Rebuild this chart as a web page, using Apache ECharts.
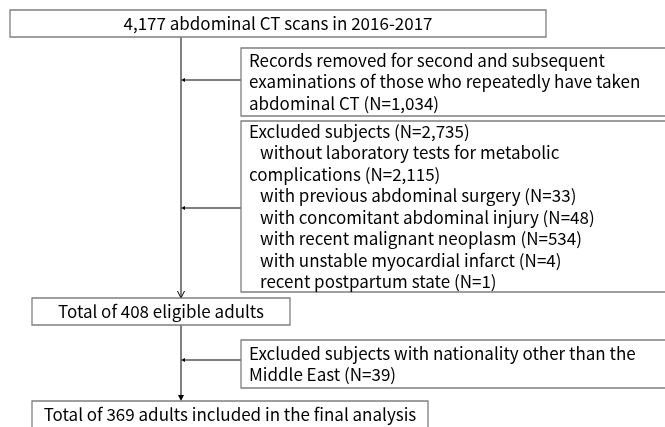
<!DOCTYPE html>
<html>
<head>
<meta charset="utf-8">
<script src="https://cdn.jsdelivr.net/npm/echarts@6/dist/echarts.min.js"></script>
<style>
html, body { margin: 0; padding: 0; background: #fff; }
#flow { width: 665px; height: 427px; }
</style>
</head>
<body>
<div id="flow"></div>
<script>
// box texts, one entry per printed line
var startText = ['4,177 abdominal CT scans in 2016-2017'];
var repeatText = [
    'Records removed for second and subsequent',
    'examinations of those who repeatedly have taken',
    'abdominal CT (N=1,034)'
];
var excludeText = [
    'Excluded subjects (N=2,735)',
    '  without laboratory tests for metabolic',
    'complications (N=2,115)',
    '  with previous abdominal surgery (N=33)',
    '  with concomitant abdominal injury (N=48)',
    '  with recent malignant neoplasm (N=534)',
    '  with unstable myocardial infarct (N=4)',
    '  recent postpartum state (N=1)'
];
var eligibleText = ['Total of 408 eligible adults'];
var nationText = [
    'Excluded subjects with nationality other than the',
    'Middle East (N=39)'
];
var finalText = ['Total of 369 adults included in the final analysis'];

var flow = echarts.init(document.getElementById('flow'));

var font = '"Noto Sans CJK KR", "Noto Sans", sans-serif';
var lineH = 21.5;
var trunkX = 181;
var elements = [];

function box(x, y, w, h, lines, center) {
    elements.push({
        type: 'rect',
        shape: { x: x, y: y, width: w, height: h },
        style: { fill: '#fff', stroke: '#7f7f7f', lineWidth: 1.3 }
    });
    var top = y + (h - lines.length * lineH) / 2 + lineH / 2;
    lines.forEach(function (t, i) {
        var indent = t.match(/^ */)[0].length;
        elements.push({
            type: 'text',
            x: center ? x + w / 2 : x + 8 + indent * 5.5,
            y: top + i * lineH,
            style: {
                text: t.replace(/^ +/, ''),
                fill: '#000',
                font: '17px ' + font,
                align: center ? 'center' : 'left',
                verticalAlign: 'middle'
            }
        });
    });
}

function branch(y, fromX) {
    elements.push({
        type: 'line',
        shape: { x1: fromX, y1: y, x2: trunkX + 2, y2: y },
        style: { stroke: '#7f7f7f', lineWidth: 2 }
    });
    elements.push({
        type: 'polygon',
        shape: { points: [[trunkX, y], [trunkX + 4, y - 2], [trunkX + 4, y + 2]] },
        style: { fill: '#000' }
    });
}

// trunk
elements.push({
    type: 'line',
    shape: { x1: trunkX, y1: 37, x2: trunkX, y2: 298 },
    style: { stroke: '#000', lineWidth: 1 }
});
elements.push({
    type: 'polyline',
    shape: { points: [[trunkX - 3.5, 291], [trunkX, 298], [trunkX + 3.5, 291]] },
    style: { stroke: '#000', lineWidth: 1, fill: null }
});
elements.push({
    type: 'line',
    shape: { x1: trunkX, y1: 325, x2: trunkX, y2: 396 },
    style: { stroke: '#000', lineWidth: 1 }
});
elements.push({
    type: 'polygon',
    shape: { points: [[trunkX - 3, 395], [trunkX + 3, 395], [trunkX, 401]] },
    style: { fill: '#000' }
});

branch(80, 241);
branch(208, 241);
branch(360, 241);

box(10, 10, 536, 27, startText, true);
box(241, 48, 430, 68, repeatText, false);
box(241, 121, 430, 171, excludeText, false);
box(32, 298, 258, 27, eligibleText, true);
box(241, 340, 430, 48, nationText, false);
box(32, 401, 396, 28, finalText, true);

option = {
    backgroundColor: '#fff',
    graphic: { elements: elements }
};
flow.setOption(option);
</script>
</body>
</html>
